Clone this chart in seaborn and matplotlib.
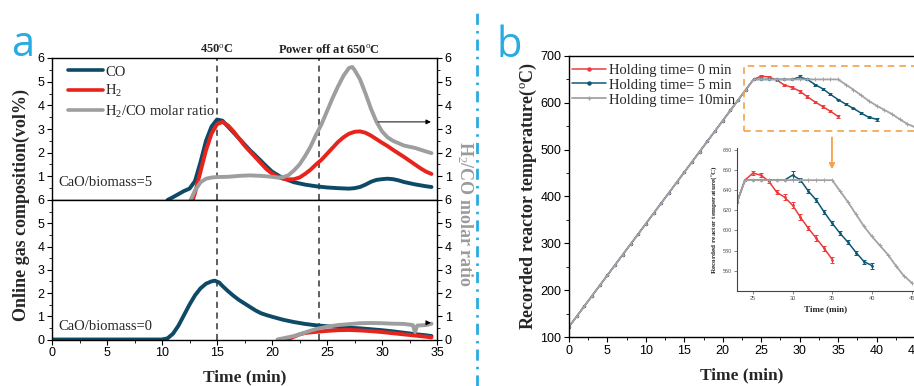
import matplotlib
matplotlib.use("Agg")
import matplotlib.pyplot as plt
import seaborn as sns
from matplotlib.lines import Line2D
from matplotlib.patches import Rectangle
from matplotlib.ticker import MultipleLocator

# ---------------- data: panel a (CaO/biomass = 5) ----------------
co5_t = [10.5, 11, 11.5, 12, 12.5, 13, 13.5, 14, 14.5, 15, 15.5, 16, 16.5, 17, 17.5, 18, 18.5, 19, 19.5, 20,
         21, 22, 23, 24, 25, 26, 27, 27.5, 28, 28.5, 29, 29.5, 30, 30.5, 31, 31.5, 32, 33, 34, 34.5]
co5_v = [0.0, 0.12, 0.25, 0.38, 0.48, 0.8, 1.6, 2.5, 3.1, 3.4, 3.35, 3.1, 2.85, 2.6, 2.35, 2.1, 1.88, 1.65, 1.42, 1.2,
         0.92, 0.75, 0.65, 0.58, 0.53, 0.5, 0.48, 0.5, 0.55, 0.65, 0.77, 0.85, 0.88, 0.9, 0.88, 0.83, 0.76, 0.66, 0.58, 0.55]
h25_t = [12.8, 13, 13.5, 14, 14.5, 15, 15.5, 16, 16.5, 17, 17.5, 18, 18.5, 19, 19.5, 20, 20.5, 21, 21.5, 22, 22.5,
         23, 23.5, 24, 24.5, 25, 25.5, 26, 26.5, 27, 27.5, 28, 28.5, 29, 29.5, 30, 30.5, 31, 31.5, 32, 32.5, 33,
         33.5, 34, 34.5]
h25_v = [0.0, 0.3, 1.2, 2.1, 2.8, 3.2, 3.3, 3.15, 2.9, 2.6, 2.3, 2.05, 1.8, 1.55, 1.3, 1.12, 0.98, 0.9, 0.87, 0.88, 0.95,
         1.1, 1.28, 1.5, 1.7, 1.95, 2.2, 2.45, 2.65, 2.8, 2.88, 2.9, 2.84, 2.72, 2.57, 2.42, 2.28, 2.12, 1.97, 1.82, 1.66,
         1.5, 1.34, 1.2, 1.1]
r5_t = [12.6, 13, 13.5, 14, 14.5, 15, 16, 17, 18, 19, 20, 20.5, 21, 21.5, 22, 22.5, 23, 23.5, 24, 24.5, 25, 25.5,
        26, 26.5, 27, 27.3, 27.5, 28, 28.5, 29, 29.5, 30, 30.5, 31, 31.5, 32, 33, 34, 34.5]
r5_v = [0.0, 0.4, 0.75, 0.9, 0.95, 0.97, 0.98, 1.02, 1.04, 1.02, 0.98, 0.95, 0.96, 1.05, 1.25, 1.5, 1.85, 2.25, 2.75,
        3.2, 3.75, 4.3, 4.8, 5.25, 5.58, 5.62, 5.5, 5.1, 4.5, 3.85, 3.3, 2.9, 2.65, 2.5, 2.4, 2.3, 2.2, 2.05, 1.98]

# ---------------- data: panel a (CaO/biomass = 0) ----------------
co0_t = [0, 10, 10.5, 11, 11.5, 12, 12.5, 13, 13.5, 14, 14.5, 14.8, 15.2, 15.5, 16, 16.5, 17, 17.5, 18, 18.5, 19,
         19.5, 20, 21, 22, 23, 24, 25, 26, 27, 28, 29, 30, 31, 32, 33, 34, 34.5]
co0_v = [0, 0, 0.05, 0.25, 0.6, 1.05, 1.5, 1.9, 2.2, 2.4, 2.5, 2.53, 2.45, 2.3, 2.08, 1.88, 1.7, 1.55, 1.4, 1.25, 1.13,
         1.05, 0.98, 0.85, 0.75, 0.67, 0.61, 0.57, 0.54, 0.51, 0.48, 0.44, 0.4, 0.35, 0.29, 0.23, 0.18, 0.15]
h20_t = [21, 21.5, 22, 22.5, 23, 24, 25, 26, 27, 28, 29, 30, 31, 32, 33, 34, 34.5]
h20_v = [0.0, 0.02, 0.12, 0.22, 0.28, 0.33, 0.37, 0.4, 0.41, 0.39, 0.36, 0.32, 0.27, 0.22, 0.17, 0.12, 0.09]
r0_t = [20.5, 21, 21.5, 22, 22.5, 23, 23.5, 24, 24.5, 25, 26, 27, 28, 29, 30, 31, 32, 32.8, 33, 33.2, 34, 34.5]
r0_v = [0.0, 0.05, 0.1, 0.15, 0.22, 0.3, 0.38, 0.45, 0.5, 0.55, 0.62, 0.66, 0.7, 0.71, 0.7, 0.68, 0.67, 0.62, 0.32,
        0.6, 0.62, 0.68]

# ---------------- data: panel b (reactor temperature) ----------------
ramp_t = list(range(0, 25))
ramp_T = [122, 144, 166, 188, 210, 232, 254, 276, 298, 320, 342, 364, 386, 408, 430, 452, 474, 496, 518, 540,
          562, 584, 606, 628, 650]
red_tail_t = list(range(25, 36))
red_tail_T = [657, 655, 649, 638, 633, 625, 613, 602, 592, 582, 571]
red_tail_err = [2, 2, 2, 2, 3, 3, 3, 2, 3, 2, 3]
blue_tail_t = list(range(25, 41))
blue_tail_T = [650, 650, 650, 650, 650, 655, 650, 639, 630, 618, 607, 597, 588, 578, 569, 565]
blue_tail_err = [0, 0, 0, 0, 0, 4, 2, 2, 2, 2, 2, 2, 2, 2, 2, 3]
grey_tail_t = list(range(25, 46))
grey_tail_T = [650, 650, 650, 650, 650, 650, 650, 650, 650, 650, 650, 639, 628, 616, 604, 594, 585, 576, 565,
               555, 548]

series_labels = ["Holding time= 0 min", "Holding time= 5 min", "Holding time= 10min"]
gas_labels = ["CO", "H$_2$", "H$_2$/CO molar ratio"]

# ---------------- style ----------------
sns.set_theme(style="white")
plt.rcParams['font.family'] = ['Liberation Sans', 'DejaVu Sans']
plt.rcParams['mathtext.fontset'] = 'custom'
plt.rcParams['mathtext.rm'] = 'Liberation Serif'
plt.rcParams['mathtext.bf'] = 'Liberation Serif:bold'
plt.rcParams['mathtext.default'] = 'rm'
SERIF = ['Liberation Serif', 'DejaVu Serif']

C_CO = '#0d4a66'
C_H2 = '#e8231c'
C_R = '#9e9e9e'
C_RED = '#ee3a3a'
C_BLUE = '#0f5874'
C_GREY = '#a3a3a3'
C_CYAN = '#29abe2'
C_ORANGE = '#f5a24a'

W, H = 914, 386
fig = plt.figure(figsize=(W / 100, H / 100), dpi=100)


def rect(l, t, r, b):
    return [l / W, 1 - b / H, (r - l) / W, (b - t) / H]


# ---------------- panel a ----------------
ax_top = fig.add_axes(rect(52, 58, 437, 200))
ax_bot = fig.add_axes(rect(52, 200, 437, 339.5))

for ax, (ct, cv, ht, hv, rt, rv) in [
        (ax_top, (co5_t, co5_v, h25_t, h25_v, r5_t, r5_v)),
        (ax_bot, (co0_t, co0_v, h20_t, h20_v, r0_t, r0_v))]:
    sns.lineplot(x=ct, y=cv, ax=ax, color=C_CO, lw=2.8, estimator=None, sort=False)
    sns.lineplot(x=ht, y=hv, ax=ax, color=C_H2, lw=2.8, estimator=None, sort=False)
    sns.lineplot(x=rt, y=rv, ax=ax, color=C_R, lw=2.8, estimator=None, sort=False)
    ax.set_xlim(0, 35)
    ax.set_ylim(0, 6)
    ax.axvline(15, ls=(0, (4, 3)), color='#333333', lw=1.1, zorder=1)
    ax.axvline(24.3, ls=(0, (4, 3)), color='#333333', lw=1.1, zorder=1)
    ax.set_xlabel('')
    ax.set_ylabel('')
    for s in ax.spines.values():
        s.set_color('black')
        s.set_linewidth(1.0)
    ax.yaxis.set_minor_locator(MultipleLocator(0.5))
    ax.tick_params(axis='y', which='both', direction='out', left=True, right=True,
                   labelleft=True, labelright=True, labelsize=9, colors='black', pad=2)
    ax.tick_params(axis='y', which='major', length=3.5, width=0.8)
    ax.tick_params(axis='y', which='minor', length=2, width=0.6)

ax_top.set_yticks([1, 2, 3, 4, 5, 6])
ax_top.set_xticks([])
ax_top.tick_params(axis='x', which='both', bottom=False, labelbottom=False)
ax_bot.set_yticks([0, 1, 2, 3, 4, 5, 6])
ax_bot.set_xticks([0, 5, 10, 15, 20, 25, 30, 35])
ax_bot.xaxis.set_minor_locator(MultipleLocator(2.5))
ax_bot.tick_params(axis='x', which='both', direction='out', bottom=True, labelsize=9, colors='black', pad=2)
ax_bot.tick_params(axis='x', which='major', length=3.5, width=0.8)
ax_bot.tick_params(axis='x', which='minor', length=2, width=0.6)

ax_top.text(15, 6.08, r"450$^{\rm o}$C", ha='center', va='bottom', fontsize=9, weight='bold', family=SERIF)
ax_top.text(25.2, 6.08, r"Power off at 650$^{\rm o}$C", ha='center', va='bottom', fontsize=9, weight='bold',
            family=SERIF)
ax_top.text(0.55, 0.76, "CaO/biomass=5", ha='left', va='center', fontsize=10.5, family=SERIF)
ax_bot.text(0.55, 0.54, "CaO/biomass=0", ha='left', va='center', fontsize=10.5, family=SERIF)

ax_top.annotate('', xy=(34.7, 3.3), xytext=(29.4, 3.3),
                arrowprops=dict(arrowstyle='-|>', color='black', lw=0.7, mutation_scale=7))
ax_bot.annotate('', xy=(34.7, 0.72), xytext=(33.9, 0.72),
                arrowprops=dict(arrowstyle='-|>', color='black', lw=0.7, mutation_scale=7))

gas_handles = [Line2D([], [], color=c, lw=2.6) for c in (C_CO, C_H2, C_R)]
ax_top.legend(gas_handles, gas_labels, loc='upper left', bbox_to_anchor=(0.015, 1.02), frameon=False,
              prop=dict(family=SERIF, size=10.5), handlelength=2.4, handletextpad=0.15, labelspacing=0.3,
              borderaxespad=0.3)

fig.text(21 / W, 1 - 205 / H, "Online gas composition(vol%)", rotation=90, ha='center', va='center',
         fontsize=13, weight='bold', family=SERIF)
fig.text(465 / W, 1 - 214 / H, "H$_2$/CO molar ratio", rotation=270, ha='center', va='center',
         fontsize=13, weight='bold', family=SERIF, color='#9a9a9a')
fig.text(245 / W, 1 - 377 / H, "Time (min)", ha='center', va='center', fontsize=12.5, weight='bold', family=SERIF)

# ---------------- panel b ----------------
ax_b = fig.add_axes(rect(569, 56, 915, 337))
ax_in = fig.add_axes(rect(737, 148, 914, 290.7))

red_t = ramp_t + red_tail_t
red_T = ramp_T + red_tail_T
blue_t = ramp_t + blue_tail_t
blue_T = ramp_T + blue_tail_T
grey_t = ramp_t + grey_tail_t
grey_T = ramp_T + grey_tail_T

for ax, ms, lw in [(ax_b, 2.2, 1.1), (ax_in, 2.0, 1.1)]:
    sns.lineplot(x=red_t, y=red_T, ax=ax, color=C_RED, lw=lw, marker='o', markersize=ms, markeredgewidth=0,
                 estimator=None, sort=False)
    ax.errorbar(red_tail_t, red_tail_T, yerr=red_tail_err, fmt='none', ecolor=C_RED, elinewidth=0.7,
                capsize=1.6, capthick=0.7)
    sns.lineplot(x=blue_t, y=blue_T, ax=ax, color=C_BLUE, lw=lw, marker='o', markersize=ms, markeredgewidth=0,
                 estimator=None, sort=False)
    ax.errorbar(blue_tail_t[5:], blue_tail_T[5:], yerr=blue_tail_err[5:], fmt='none', ecolor=C_BLUE,
                elinewidth=0.7, capsize=1.6, capthick=0.7)
    sns.lineplot(x=grey_t, y=grey_T, ax=ax, color=C_GREY, lw=lw + 0.2, marker='+', markersize=3,
                 markeredgewidth=0.7, markeredgecolor=C_GREY, estimator=None, sort=False)
    ax.set_xlabel('')
    ax.set_ylabel('')

ax_b.set_xlim(0, 45)
ax_b.set_ylim(100, 700)
ax_b.set_xticks([0, 5, 10, 15, 20, 25, 30, 35, 40, 45])
ax_b.set_yticks([100, 200, 300, 400, 500, 600, 700])
ax_b.xaxis.set_minor_locator(MultipleLocator(2.5))
ax_b.yaxis.set_minor_locator(MultipleLocator(50))
for s in ax_b.spines.values():
    s.set_color('black')
    s.set_linewidth(1.0)
ax_b.tick_params(axis='both', which='both', direction='out', bottom=True, left=True, labelsize=9,
                 colors='black', pad=2)
ax_b.tick_params(axis='both', which='major', length=3.5, width=0.8)
ax_b.tick_params(axis='both', which='minor', length=2, width=0.6)

ax_b.add_patch(Rectangle((22.8, 540), 22.2, 139, fill=False, ls=(0, (4, 3)), ec=C_ORANGE, lw=1.2,
                         clip_on=False, zorder=5))
ax_b.annotate('', xy=(34.2, 452), xytext=(34.2, 532),
              arrowprops=dict(arrowstyle='-|>', color=C_ORANGE, lw=1.3, mutation_scale=8))

leg_handles = [Line2D([], [], color=C_RED, lw=1.1, marker='o', markersize=2.2),
               Line2D([], [], color=C_BLUE, lw=1.1, marker='o', markersize=2.2),
               Line2D([], [], color=C_GREY, lw=1.3, marker='+', markersize=3)]
ax_b.legend(leg_handles, series_labels, loc='upper left', bbox_to_anchor=(-0.02, 1.01), frameon=False,
            prop=dict(family=SERIF, size=10.5), handlelength=2.3, handletextpad=0.2, labelspacing=0.12,
            borderaxespad=0.3)

ax_in.patch.set_visible(False)
ax_in.set_xlim(23, 45.3)
ax_in.set_ylim(540, 682)
ax_in.set_xticks([25, 30, 35, 40, 45])
ax_in.set_yticks([560, 580, 600, 620, 640, 660, 680])
ax_in.spines['top'].set_visible(False)
ax_in.spines['right'].set_visible(False)
for sp in ('left', 'bottom'):
    ax_in.spines[sp].set_color('#444444')
    ax_in.spines[sp].set_linewidth(0.8)
ax_in.tick_params(axis='both', which='major', direction='out', length=2, width=0.5, labelsize=4,
                  colors='#555555', pad=1.5, bottom=True, left=True)
ax_in.set_xlabel("Time (min)", fontsize=6.5, weight='bold', family=SERIF, labelpad=3)
ax_in.set_ylabel(r"Recorded reactor temperature($^{\rm o}$C)", fontsize=5.2, weight='bold', family=SERIF,
                 labelpad=3)

fig.text(528 / W, 1 - 196 / H, r"Recorded reactor temperature($^{\rm o}$C)", rotation=90, ha='center',
         va='center', fontsize=13, weight='bold', family=SERIF)
fig.text(742 / W, 1 - 375 / H, "Time (min)", ha='center', va='center', fontsize=12.5, weight='bold',
         family=SERIF)

# ---------------- decorations ----------------
fig.add_artist(Line2D([477 / W, 477 / W], [0, 1 - 10 / H], transform=fig.transFigure, color=C_CYAN, lw=2.0,
                      ls=(0, (4, 2.2, 0.9, 2.2))))
fig.text(11 / W, 1 - 56 / H, "a", fontsize=30, color=C_CYAN, family=['Open Sans', 'DejaVu Sans'],
         ha='left', va='baseline')
fig.text(496 / W, 1 - 57 / H, "b", fontsize=30, color=C_CYAN, family=['Open Sans', 'DejaVu Sans'],
         ha='left', va='baseline')

fig.savefig("out.png", dpi=100)
